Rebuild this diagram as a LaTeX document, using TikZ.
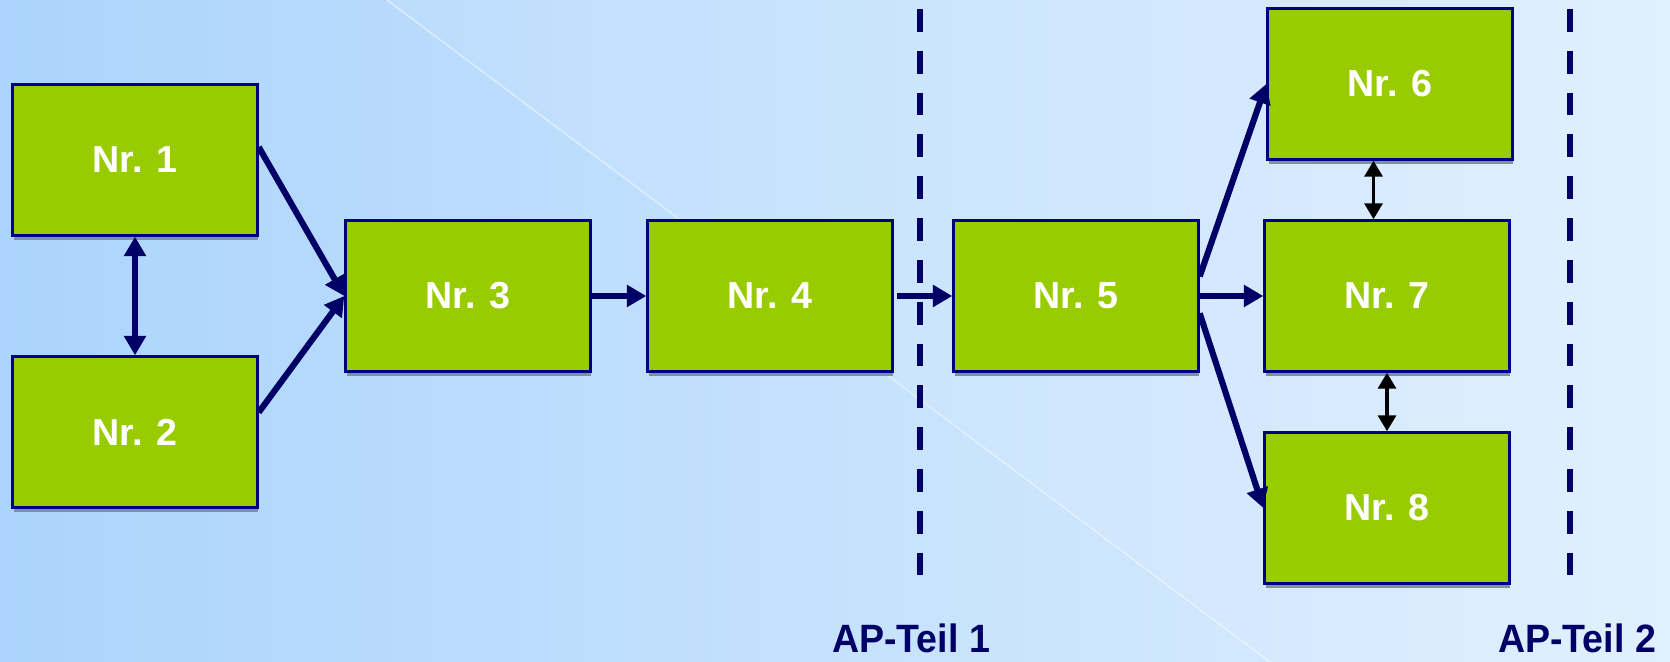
\documentclass[tikz,border=0pt]{standalone}
\usepackage{fontspec}
\setmainfont{Liberation Sans}
\newfontfamily\narrowfont[FakeStretch=0.95]{Liberation Sans}
\usepackage{tikz}
\usetikzlibrary{arrows.meta,shadows}
\definecolor{boxgreen}{RGB}{153,204,0}
\definecolor{navy}{RGB}{0,0,102}
\definecolor{boxline}{RGB}{0,0,130}
\definecolor{shadowgray}{RGB}{125,145,165}
\definecolor{bgdark}{RGB}{148,200,251}
\definecolor{bglight}{RGB}{246,251,255}

\tikzset{
  apbox/.style={rectangle, fill=boxgreen, draw=boxline, line width=1.4pt,
    minimum width=4.9cm, minimum height=3.02cm, inner sep=0pt, text=white,
    font=\fontsize{21.4}{24}\selectfont\bfseries,
    drop shadow={shadow xshift=0.02cm, shadow yshift=-0.09cm, fill=shadowgray, opacity=1}},
  flow/.style={line width=3.5pt, navy, -{Triangle[length=11pt,width=12pt]}},
  both/.style={line width=3.5pt, navy, {Triangle[length=11pt,width=12pt]}-{Triangle[length=11pt,width=12pt]}},
  link/.style={line width=2.2pt, black, {Triangle[length=9pt,width=10pt]}-{Triangle[length=9pt,width=10pt]}},
  teilgrenze/.style={line width=3.4pt, navy, dash pattern=on 13pt off 10.8pt},
  teillabel/.style={text=navy, font=\narrowfont\fontsize{22.5}{26}\selectfont\bfseries, anchor=base, inner sep=1pt},
}

\begin{document}
\begin{tikzpicture}[x=0.02cm,y=0.02cm]
    \useasboundingbox (0,0) rectangle (1670,662);
    \begin{scope}
        \clip (0,0) rectangle (1670,662);
        \shade[left color=bgdark, right color=bglight, rotate around={54:(835,331)}] (-685,-549) rectangle (2355,1211);
        \fill[white,opacity=0.08] (387,662) -- (1670,662) -- (1670,0) -- (1270,0) -- cycle;
        \draw[white,opacity=0.5,line width=0.8pt] (387,662) -- (1270,0);
    \end{scope}

    \draw[teilgrenze] (920,653) -- (920,84);
    \draw[teilgrenze] (1570,653) -- (1570,84);

    \node[apbox] (n1) at (135,502) {Nr. 1};
    \node[apbox] (n2) at (135,230) {Nr. 2};
    \node[apbox] (n3) at (468,366) {Nr. 3};
    \node[apbox] (n4) at (770,366) {Nr. 4};
    \node[apbox] (n5) at (1076,366) {Nr. 5};
    \node[apbox] (n6) at (1390,578) {Nr. 6};
    \node[apbox] (n7) at (1387,366) {Nr. 7};
    \node[apbox] (n8) at (1387,154) {Nr. 8};

    \draw[both] (n1.south) -- (n2.north);
    \draw[flow] (n1.6) -- (n3.west);
    \draw[flow] (n2.9) -- (n3.west);
    \draw[flow] (n3.east) -- (n4.west);
    \draw[flow, shorten <=2pt] (n4.east) -- (n5.west);
    \draw[flow] (n5.9) -- (n6.west);
    \draw[flow] (n5.east) -- (n7.west);
    \draw[flow] (n5.-8) -- (n8.west);
    \draw[link] ([xshift=-0.33cm]n6.south) -- ([xshift=-0.33cm]n6.south |- n7.north);
    \draw[link] (n7.south) -- (n8.north);

    \node[teillabel] (ap1) at (911,9) {AP-Teil 1};
    \node[teillabel] (ap2) at (1577,9) {AP-Teil 2};
\end{tikzpicture}
\end{document}
